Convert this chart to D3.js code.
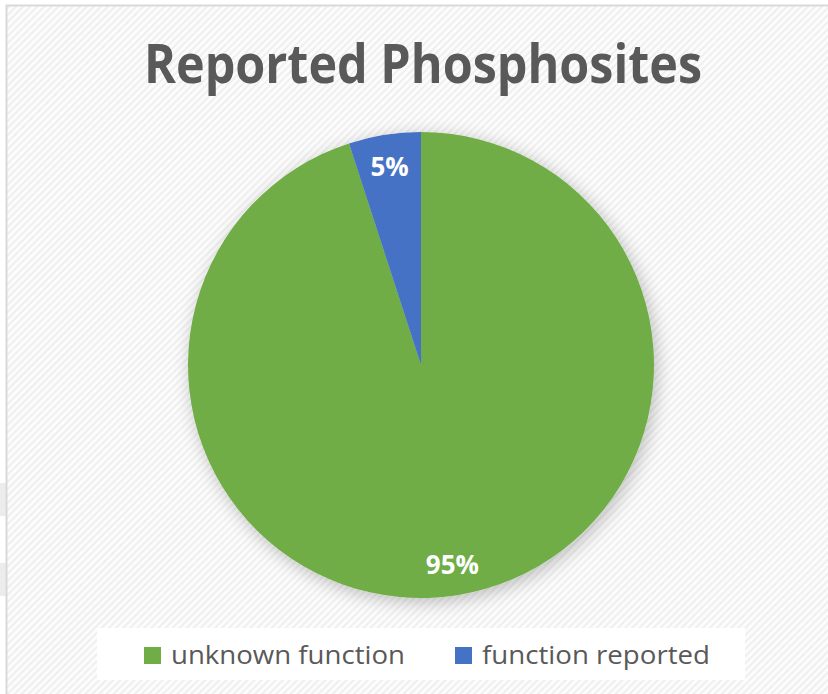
<!DOCTYPE html>
<html>
<head>
<meta charset="utf-8">
<script src="https://cdn.jsdelivr.net/npm/d3@7"></script>
<style>
html,body{margin:0;padding:0;background:#fff;overflow:hidden;}
svg{display:block;}
</style>
</head>
<body>
<svg id="chart" width="828" height="694"></svg>
<script>
const title = "Reported Phosphosites";
const categories = ["unknown function", "function reported"];
const values = [95, 5];
const labels = ["95%", "5%"];
const colors = ["#70AD47", "#4472C4"];

const svg = d3.select("#chart");
const W = 828, H = 694;
const defs = svg.append("defs");

// hatch pattern background
const pat = defs.append("pattern").attr("id","hatch").attr("patternUnits","userSpaceOnUse")
  .attr("width",5).attr("height",5).attr("patternTransform","rotate(45)");
pat.append("rect").attr("width",5).attr("height",5).attr("fill","#fcfcfc");
pat.append("rect").attr("width",2).attr("height",5).attr("fill","#efefef");

const shadow = defs.append("filter").attr("id","shadow").attr("x","-20%").attr("y","-20%").attr("width","140%").attr("height","140%");
shadow.append("feGaussianBlur").attr("in","SourceAlpha").attr("stdDeviation",9).attr("result","b");
shadow.append("feOffset").attr("in","b").attr("dx",3).attr("dy",4).attr("result","o");
shadow.append("feComponentTransfer").attr("in","o").attr("result","s")
  .append("feFuncA").attr("type","linear").attr("slope",0.25);
const m = shadow.append("feMerge");
m.append("feMergeNode").attr("in","s");
m.append("feMergeNode").attr("in","SourceGraphic");

svg.append("rect").attr("width",W).attr("height",H).attr("fill","#ffffff");
// small gray marks at left outside the frame
svg.append("rect").attr("x",0).attr("y",483).attr("width",6).attr("height",33).attr("fill","#ececec");
svg.append("rect").attr("x",0).attr("y",563).attr("width",6).attr("height",33).attr("fill","#ececec");

svg.append("rect").attr("x",6.5).attr("y",5.5).attr("width",W+20).attr("height",H+20)
  .attr("fill","url(#hatch)").attr("stroke","#d9d9d9").attr("stroke-width",2);

// Title
const t = svg.append("text").attr("x",423).attr("y",83).attr("text-anchor","middle")
  .attr("font-family","'Open Sans', sans-serif").attr("font-weight",700).attr("font-size",53)
  .attr("fill","#595959").text(title);
t.attr("textLength",558).attr("lengthAdjust","spacingAndGlyphs");

// Pie
const cx = 421, cy = 365, R = 233;
const pie = d3.pie().sort(null).value(d => d)(values);
const arc = d3.arc().innerRadius(0).outerRadius(R);
const g = svg.append("g").attr("transform",`translate(${cx},${cy})`);
g.append("g").attr("filter","url(#shadow)").selectAll("path").data(pie).join("path")
  .attr("d",arc).attr("fill",(d,i)=>colors[i]);

const labelArc = d3.arc().innerRadius(201).outerRadius(201);
g.selectAll("text.lbl").data(pie).join("text").attr("class","lbl")
  .attr("x",d=>labelArc.centroid(d)[0]).attr("y",d=>labelArc.centroid(d)[1]+10)
  .attr("text-anchor","middle").attr("font-family","'Open Sans', sans-serif")
  .attr("font-weight",700).attr("font-size",26).attr("fill","#ffffff")
  .text((d,i)=>labels[i]);

// Legend
svg.append("rect").attr("x",97).attr("y",628).attr("width",648).attr("height",52).attr("fill","#ffffff");
const legX = [144, 455];
const legW = [234, 228];
const lg = svg.append("g").selectAll("g").data(categories).join("g")
  .attr("transform",(d,i)=>`translate(${legX[i]},0)`);
lg.append("rect").attr("x",0).attr("y",647).attr("width",17).attr("height",17).attr("fill",(d,i)=>colors[i]);
lg.append("text").attr("x",27).attr("y",664).attr("font-family","'Open Sans', sans-serif")
  .attr("font-size",26).attr("fill","#595959")
  .attr("textLength",(d,i)=>legW[i]).attr("lengthAdjust","spacingAndGlyphs").text(d=>d);
</script>
</body>
</html>
